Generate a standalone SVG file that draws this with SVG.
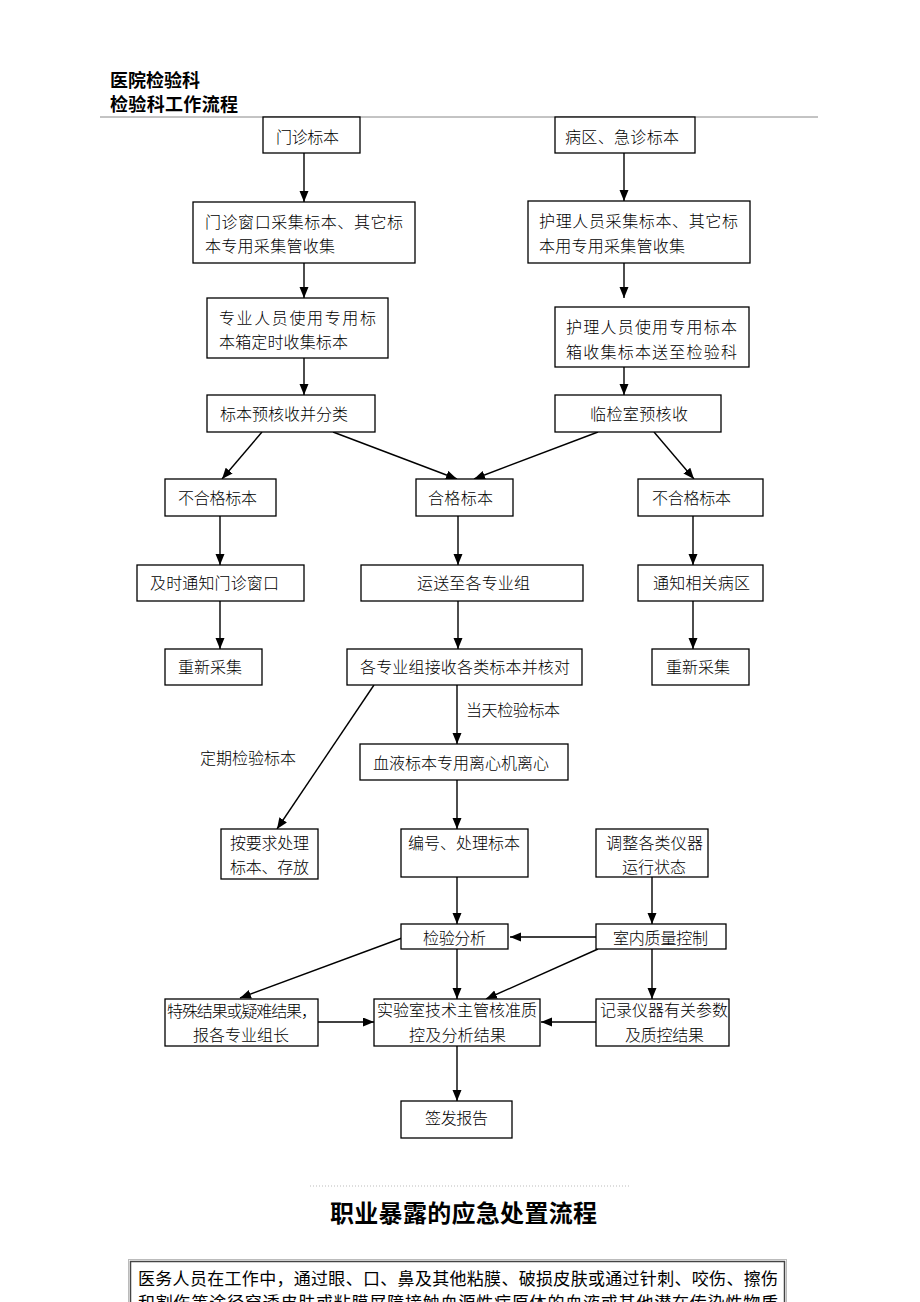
<svg xmlns="http://www.w3.org/2000/svg" width="920" height="1302" viewBox="0 0 920 1302">
<style>
.box{fill:#fff;stroke:#000;stroke-width:1.3}
.t{font-family:"Noto Sans CJK SC","Noto Sans",sans-serif;font-size:16px;font-weight:300;fill:#000;dominant-baseline:central}
.h{font-family:"Noto Sans CJK SC","Noto Sans",sans-serif;font-size:18px;font-weight:700;fill:#000;dominant-baseline:central}
.c{stroke:#000;stroke-width:1.4;fill:none;marker-end:url(#ah)}
</style>
<defs>
<marker id="ah" markerUnits="userSpaceOnUse" markerWidth="12" markerHeight="10" refX="11" refY="4.5" orient="auto">
<path d="M0,0 L11,4.5 L0,9 z" fill="#000"/>
</marker>
</defs>
<rect width="920" height="1302" fill="#fff"/>
<g id="header">
<text class="h" x="110" y="79" textLength="90" lengthAdjust="spacing">医院检验科</text>
<text class="h" x="110" y="103" textLength="128" lengthAdjust="spacing">检验科工作流程</text>
<line x1="100" y1="117" x2="818" y2="117" stroke="#888" stroke-width="1"/>
</g>
<g id="connectors">
<line class="c" x1="304" y1="153" x2="304" y2="202"/>
<line class="c" x1="624" y1="153" x2="624" y2="201"/>
<line class="c" x1="304" y1="263" x2="304" y2="298"/>
<line class="c" x1="624" y1="263" x2="624" y2="298"/>
<line class="c" x1="304" y1="358" x2="304" y2="395"/>
<line class="c" x1="624" y1="367" x2="624" y2="395"/>
<line class="c" x1="262" y1="432" x2="222" y2="479"/>
<line class="c" x1="333" y1="432" x2="457" y2="479"/>
<line class="c" x1="598" y1="432" x2="474" y2="479"/>
<line class="c" x1="654" y1="432" x2="694" y2="479"/>
<line class="c" x1="220" y1="516" x2="220" y2="565"/>
<line class="c" x1="458" y1="516" x2="458" y2="565"/>
<line class="c" x1="693" y1="516" x2="693" y2="565"/>
<line class="c" x1="220" y1="601" x2="220" y2="649"/>
<line class="c" x1="458" y1="601" x2="458" y2="649"/>
<line class="c" x1="693" y1="601" x2="693" y2="649"/>
<line class="c" x1="374" y1="685" x2="277" y2="829"/>
<line class="c" x1="457" y1="685" x2="457" y2="744"/>
<line class="c" x1="457" y1="780" x2="457" y2="829"/>
<line class="c" x1="457" y1="877" x2="457" y2="924"/>
<line class="c" x1="652" y1="877" x2="652" y2="924"/>
<line class="c" x1="596" y1="937" x2="510" y2="937"/>
<line class="c" x1="402" y1="938" x2="240" y2="998"/>
<line class="c" x1="457" y1="949" x2="457" y2="999"/>
<line class="c" x1="598" y1="949" x2="486" y2="999"/>
<line class="c" x1="652" y1="949" x2="652" y2="999"/>
<line class="c" x1="318" y1="1022" x2="374" y2="1022"/>
<line class="c" x1="596" y1="1022" x2="541" y2="1022"/>
<line class="c" x1="457" y1="1046" x2="457" y2="1101"/>
<text class="t" x="466" y="709" textLength="94" lengthAdjust="spacing">当天检验标本</text>
<text class="t" x="200" y="757" textLength="96" lengthAdjust="spacing">定期检验标本</text>
</g>
<g id="n1"><rect class="box" x="263" y="117" width="97" height="36"/><text class="t" x="276" y="136" textLength="63" lengthAdjust="spacing">门诊标本</text></g>
<g id="n2"><rect class="box" x="555" y="117" width="140" height="36"/><text class="t" x="565" y="136" textLength="114" lengthAdjust="spacing">病区、急诊标本</text></g>
<g id="n3"><rect class="box" x="193" y="202" width="222" height="61"/><text class="t" x="205" y="221" textLength="198" lengthAdjust="spacing">门诊窗口采集标本、其它标</text><text class="t" x="205" y="245" textLength="130" lengthAdjust="spacing">本专用采集管收集</text></g>
<g id="n4"><rect class="box" x="528" y="201" width="222" height="62"/><text class="t" x="539" y="220" textLength="199" lengthAdjust="spacing">护理人员采集标本、其它标</text><text class="t" x="539" y="245" textLength="146" lengthAdjust="spacing">本用专用采集管收集</text></g>
<g id="n5"><rect class="box" x="207" y="298" width="181" height="60"/><text class="t" x="219" y="317" textLength="157" lengthAdjust="spacing">专业人员使用专用标</text><text class="t" x="219" y="341" textLength="129" lengthAdjust="spacing">本箱定时收集标本</text></g>
<g id="n6"><rect class="box" x="555" y="307" width="194" height="60"/><text class="t" x="566" y="326" textLength="171" lengthAdjust="spacing">护理人员使用专用标本</text><text class="t" x="566" y="351" textLength="171" lengthAdjust="spacing">箱收集标本送至检验科</text></g>
<g id="n7"><rect class="box" x="207" y="395" width="168" height="37"/><text class="t" x="220" y="413" textLength="128" lengthAdjust="spacing">标本预核收并分类</text></g>
<g id="n8"><rect class="box" x="555" y="395" width="166" height="37"/><text class="t" x="590" y="413" textLength="98" lengthAdjust="spacing">临检室预核收</text></g>
<g id="n9"><rect class="box" x="165" y="479" width="111" height="37"/><text class="t" x="178" y="497" textLength="79" lengthAdjust="spacing">不合格标本</text></g>
<g id="n10"><rect class="box" x="416" y="479" width="97" height="37"/><text class="t" x="428" y="497" textLength="65" lengthAdjust="spacing">合格标本</text></g>
<g id="n11"><rect class="box" x="638" y="479" width="125" height="37"/><text class="t" x="652" y="497" textLength="79" lengthAdjust="spacing">不合格标本</text></g>
<g id="n12"><rect class="box" x="137" y="565" width="167" height="36"/><text class="t" x="150" y="582" textLength="129" lengthAdjust="spacing">及时通知门诊窗口</text></g>
<g id="n13"><rect class="box" x="361" y="565" width="222" height="36"/><text class="t" x="417" y="582" textLength="113" lengthAdjust="spacing">运送至各专业组</text></g>
<g id="n14"><rect class="box" x="638" y="565" width="125" height="36"/><text class="t" x="653" y="582" textLength="97" lengthAdjust="spacing">通知相关病区</text></g>
<g id="n15"><rect class="box" x="165" y="649" width="97" height="36"/><text class="t" x="178" y="666" textLength="64" lengthAdjust="spacing">重新采集</text></g>
<g id="n16"><rect class="box" x="347" y="649" width="235" height="36"/><text class="t" x="360" y="666" textLength="210" lengthAdjust="spacing">各专业组接收各类标本并核对</text></g>
<g id="n17"><rect class="box" x="652" y="649" width="97" height="36"/><text class="t" x="666" y="666" textLength="64" lengthAdjust="spacing">重新采集</text></g>
<g id="n18"><rect class="box" x="360" y="744" width="208" height="36"/><text class="t" x="373" y="762" textLength="176" lengthAdjust="spacing">血液标本专用离心机离心</text></g>
<g id="n19"><rect class="box" x="221" y="829" width="97" height="50"/><text class="t" x="230" y="842" textLength="79" lengthAdjust="spacing">按要求处理</text><text class="t" x="230" y="866" textLength="79" lengthAdjust="spacing">标本、存放</text></g>
<g id="n20"><rect class="box" x="401" y="829" width="127" height="48"/><text class="t" x="408" y="842" textLength="112" lengthAdjust="spacing">编号、处理标本</text></g>
<g id="n21"><rect class="box" x="596" y="829" width="112" height="48"/><text class="t" x="606" y="842" textLength="97" lengthAdjust="spacing">调整各类仪器</text><text class="t" x="622" y="866" textLength="64" lengthAdjust="spacing">运行状态</text></g>
<g id="n22"><rect class="box" x="401" y="924" width="107" height="25"/><text class="t" x="423" y="937" textLength="63" lengthAdjust="spacing">检验分析</text></g>
<g id="n23"><rect class="box" x="596" y="924" width="130" height="25"/><text class="t" x="613" y="937" textLength="95" lengthAdjust="spacing">室内质量控制</text></g>
<g id="n24"><rect class="box" x="165" y="999" width="153" height="47"/><text class="t" x="167" y="1010" textLength="150" lengthAdjust="spacing">特殊结果或疑难结果，</text><text class="t" x="193" y="1034" textLength="96" lengthAdjust="spacing">报各专业组长</text></g>
<g id="n25"><rect class="box" x="374" y="999" width="166" height="47"/><text class="t" x="377" y="1009" textLength="160" lengthAdjust="spacing">实验室技术主管核准质</text><text class="t" x="409" y="1034" textLength="97" lengthAdjust="spacing">控及分析结果</text></g>
<g id="n26"><rect class="box" x="596" y="999" width="133" height="47"/><text class="t" x="600" y="1009" textLength="128" lengthAdjust="spacing">记录仪器有关参数</text><text class="t" x="625" y="1034" textLength="79" lengthAdjust="spacing">及质控结果</text></g>
<g id="n27"><rect class="box" x="401" y="1101" width="111" height="37"/><text class="t" x="425" y="1117" textLength="63" lengthAdjust="spacing">签发报告</text></g>
<g id="section2">
<line x1="310" y1="1186" x2="630" y2="1186" stroke="#bbb" stroke-width="1" stroke-dasharray="1,2"/>
<text x="330" y="1211" textLength="267" lengthAdjust="spacing" style="font-family:'Noto Sans CJK SC',sans-serif;font-size:24px;font-weight:700;dominant-baseline:central">职业暴露的应急处置流程</text>
<rect x="128.5" y="1259.5" width="658" height="60" fill="none" stroke="#bbb" stroke-width="1"/>
<rect x="130.5" y="1261.5" width="654" height="60" fill="#fff" stroke="#444" stroke-width="1.5"/>
<text x="138" y="1277" textLength="640" lengthAdjust="spacing" style="font-family:'Noto Sans CJK SC',sans-serif;font-size:17px;dominant-baseline:central">医务人员在工作中，通过眼、口、鼻及其他粘膜、破损皮肤或通过针刺、咬伤、擦伤</text>
<text x="138" y="1301" textLength="640" lengthAdjust="spacing" style="font-family:'Noto Sans CJK SC',sans-serif;font-size:17px;dominant-baseline:central">和割伤等途径穿透皮肤或粘膜屏障接触血源性病原体的血液或其他潜在传染性物质</text>
</g>
</svg>
